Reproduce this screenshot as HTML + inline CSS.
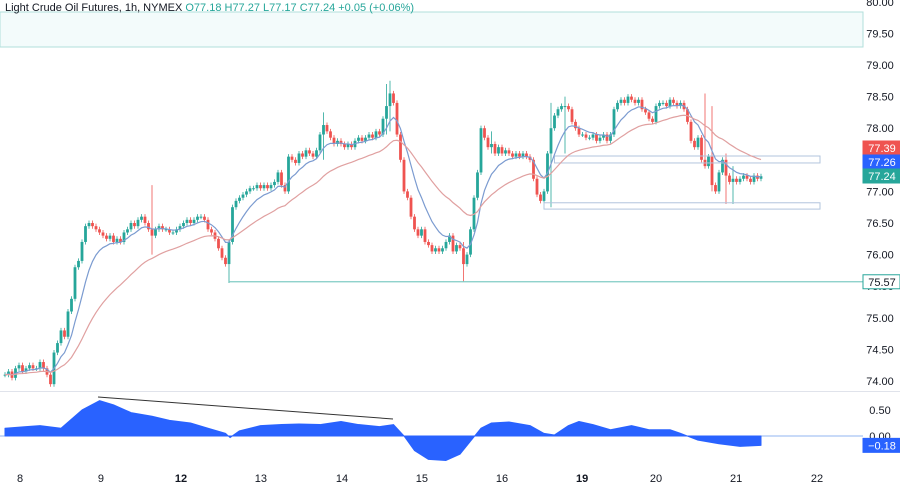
<!DOCTYPE html>
<html><head><meta charset="utf-8"><style>
body{margin:0;background:#fff;width:900px;height:486px;overflow:hidden;font-family:"Liberation Sans",sans-serif}
svg text{font-family:"Liberation Sans",sans-serif}
</style></head><body>
<svg id="c" width="900" height="486" xmlns="http://www.w3.org/2000/svg">
<rect x="0" y="12" width="863" height="35" fill="#f3fbfb" stroke="#b2dfdb" stroke-width="1"/>
<text x="5" y="11" font-size="11" fill="#131722">Light Crude Oil Futures, 1h, NYMEX <tspan fill="#26a69a">O77.18  H77.27  L77.17  C77.24  +0.05 (+0.06%)</tspan></text>
<line x1="0" y1="391.5" x2="900" y2="391.5" stroke="#e0e3eb"/>
<g id="price-axis"></g>
<g id="marks"></g>
</svg>
<script>
const closes=[74.1,74.15,74.05,74.2,74.25,74.15,74.2,74.25,74.2,74.2,
74.3,74.2,74.1,73.95,74.45,74.6,74.8,74.7,75.1,75.3,
75.8,75.9,76.2,76.45,76.5,76.45,76.4,76.35,76.3,76.25,
76.3,76.2,76.25,76.2,76.35,76.4,76.5,76.45,76.55,76.6,
76.5,76.4,76.3,76.4,76.45,76.4,76.4,76.35,76.35,76.4,
76.45,76.5,76.55,76.5,76.55,76.6,76.6,76.55,76.4,76.35,
76.25,76.1,75.95,75.85,76.2,76.75,76.85,76.9,76.95,77.0,
77.05,77.05,77.1,77.05,77.1,77.05,77.1,77.15,77.3,77.1,
77.0,77.55,77.5,77.45,77.6,77.55,77.65,77.6,77.55,77.65,
77.9,78.05,77.95,77.85,77.75,77.8,77.75,77.7,77.75,77.7,
77.8,77.85,77.8,77.85,77.9,77.85,77.95,77.9,78.15,78.35,
78.55,78.4,77.9,77.5,77.0,76.9,76.6,76.4,76.3,76.4,
76.2,76.15,76.05,76.1,76.05,76.1,76.2,76.3,76.05,76.15,
76.1,75.85,76.0,76.4,76.9,77.3,78.0,77.85,77.7,77.75,
77.6,77.7,77.6,77.65,77.6,77.55,77.6,77.55,77.6,77.55,
77.5,77.2,76.95,76.85,77.0,77.6,78.0,78.2,78.3,78.35,
78.35,78.3,78.1,78.0,77.9,77.9,77.85,77.85,77.9,77.8,
77.85,77.9,77.8,77.9,78.3,78.4,78.45,78.4,78.5,78.45,
78.4,78.45,78.3,78.25,78.15,78.1,78.35,78.4,78.4,78.35,
78.45,78.4,78.35,78.4,78.3,78.1,77.8,77.7,77.85,77.5,
77.4,77.55,77.1,77.0,77.3,77.5,77.25,77.15,77.2,77.15,
77.2,77.25,77.2,77.15,77.25,77.2,77.24];
const spikeIdx=[42,64,91,109,110,131,139,156,160,200,202,206,208];
const spikeHigh=[77.1,76.2,78.25,78.7,78.75,76.2,77.95,78.4,78.5,78.55,78.35,77.6,77.4];
const spikeLow=[76.0,75.55,77.5,77.9,77.95,75.57,77.6,76.75,77.6,78.0,77.0,76.8,76.8];
const priceTicks=[80,79.5,79,78.5,78,77.5,77,76.5,76,75.5,75,74.5,74];
const dayLabels=["8","9","12","13","14","15","16","19","20","21","22"];
const dayIdx=[4.3,27.4,50.3,73.1,96.3,119.1,142,164.9,186,208.9,232];
const oscIdx=[0,6,10,16,22,27,31,36,42,47,53,58,63,64.3,67,73,79,84,90,96,101,107,111,114,117,121,126,130,133,136,139,144,150,154,157,161,164,168,173,179,184,190,193,198,204,210,216];
const oscVal=[0.15,0.18,0.2,0.15,0.5,0.68,0.6,0.45,0.38,0.3,0.25,0.15,0.05,-0.03,0.1,0.2,0.22,0.23,0.22,0.28,0.22,0.18,0.22,0.0,-0.28,-0.45,-0.47,-0.35,-0.1,0.15,0.25,0.27,0.2,0.05,0.02,0.2,0.28,0.22,0.12,0.2,0.12,0.12,0.05,-0.08,-0.15,-0.2,-0.18];
const levels=[75.57];

const svg=document.getElementById('c'),NS="http://www.w3.org/2000/svg";
const X=i=>5+i*3.5, Y=p=>65+(79-p)*63.2, OY=v=>436-v*52;
function mk(t,a,parent){const e=document.createElementNS(NS,t);for(const k in a)e.setAttribute(k,a[k]);(parent||svg).appendChild(e);return e;}
const ax=document.getElementById('price-axis'),g=document.getElementById('marks');
priceTicks.forEach(p=>{const t=mk('text',{x:880,y:Y(p)+4,'font-size':11,fill:'#131722','text-anchor':'middle'},ax);t.textContent=p.toFixed(2);

});
dayLabels.forEach((d,k)=>{const t=mk('text',{x:X(dayIdx[k]),y:482,'font-size':11,fill:'#131722','text-anchor':'middle','font-weight':(d==='12'||d==='19')?'bold':'normal'});t.textContent=d;

});
levels.forEach(l=>{const ln=mk('line',{x1:X(64),y1:Y(l),x2:863,y2:Y(l),stroke:'#80cbc4','stroke-width':1.3});

});
const z1=mk('rect',{x:X(157),y:Y(77.56),width:820-X(157),height:Y(77.45)-Y(77.56),fill:'none',stroke:'#b2c4dd'});


const z2=mk('rect',{x:X(154),y:Y(76.82),width:820-X(154),height:Y(76.72)-Y(76.82),fill:'none',stroke:'#b2c4dd'});


closes.forEach((c,i)=>{const o=i?closes[i-1]:c;let h=Math.max(o,c)+0.04,l=Math.min(o,c)-0.04;
const s=spikeIdx.indexOf(i);if(s>=0){h=Math.max(h,spikeHigh[s]);l=Math.min(l,spikeLow[s]);}
const col=c>=o?'#26a69a':'#ef5350';const x=X(i);
const w=mk('line',{x1:x,y1:Y(h),x2:x,y2:Y(l),stroke:col,'stroke-width':0.8},g);


const b=mk('rect',{x:x-1.4,y:Y(Math.max(o,c)),width:2.8,height:Math.max(1,Math.abs(Y(o)-Y(c))),fill:col},g);

});
function ema(n){let e=closes[0],out=[];const k=2/(n+1);closes.forEach(c=>{e=c*k+e*(1-k);out.push(e);});return out;}
[[9,'#7b9bd0'],[30,'#e0a0a0']].forEach(([n,col])=>{const m=ema(n);
const p=mk('path',{d:m.map((v,i)=>(i?'L':'M')+X(i)+','+Y(v)).join(''),fill:'none',stroke:col,'stroke-width':1.2});

});
const zl=mk('line',{x1:0,y1:OY(0),x2:863,y2:OY(0),stroke:'#90b4f0','stroke-width':1});


let d='M'+X(oscIdx[0])+','+OY(0);oscIdx.forEach((ix,k)=>d+='L'+X(ix)+','+OY(oscVal[k]));d+='L'+X(oscIdx[oscIdx.length-1])+','+OY(0)+'Z';
const ar=mk('path',{d:d,fill:'#2962ff',stroke:'#2962ff','stroke-width':1,'stroke-linejoin':'round'});


const tl=mk('line',{x1:98,y1:397,x2:393,y2:419,stroke:'#333','stroke-width':1});


[[0.5,'0.50'],[0,'0.00']].forEach(([v,s])=>{const t=mk('text',{x:880,y:OY(v)+4,'font-size':11,fill:'#131722','text-anchor':'middle'});t.textContent=s;

});
function lab(y,txt,bg,fg,stroke,name){const r=mk('rect',{x:863,y:y-7,width:37,height:14,fill:bg,stroke:stroke||bg});


const t=mk('text',{x:882,y:y+4,'font-size':11,fill:fg,'text-anchor':'middle'});t.textContent=txt;

}
lab(148,'77.39','#ef5350','#fff',null,'ma-slow-label');
lab(162,'77.26','#2962ff','#fff',null,'ma-fast-label');
lab(176,'77.24','#26a69a','#fff',null,'last-price-label');
lab(Y(75.57),'75.57','#fff','#131722','#26a69a','support-label');
lab(OY(-0.18),'−0.18','#2962ff','#fff',null,'oscillator-value-label');
</script>
</body></html>
